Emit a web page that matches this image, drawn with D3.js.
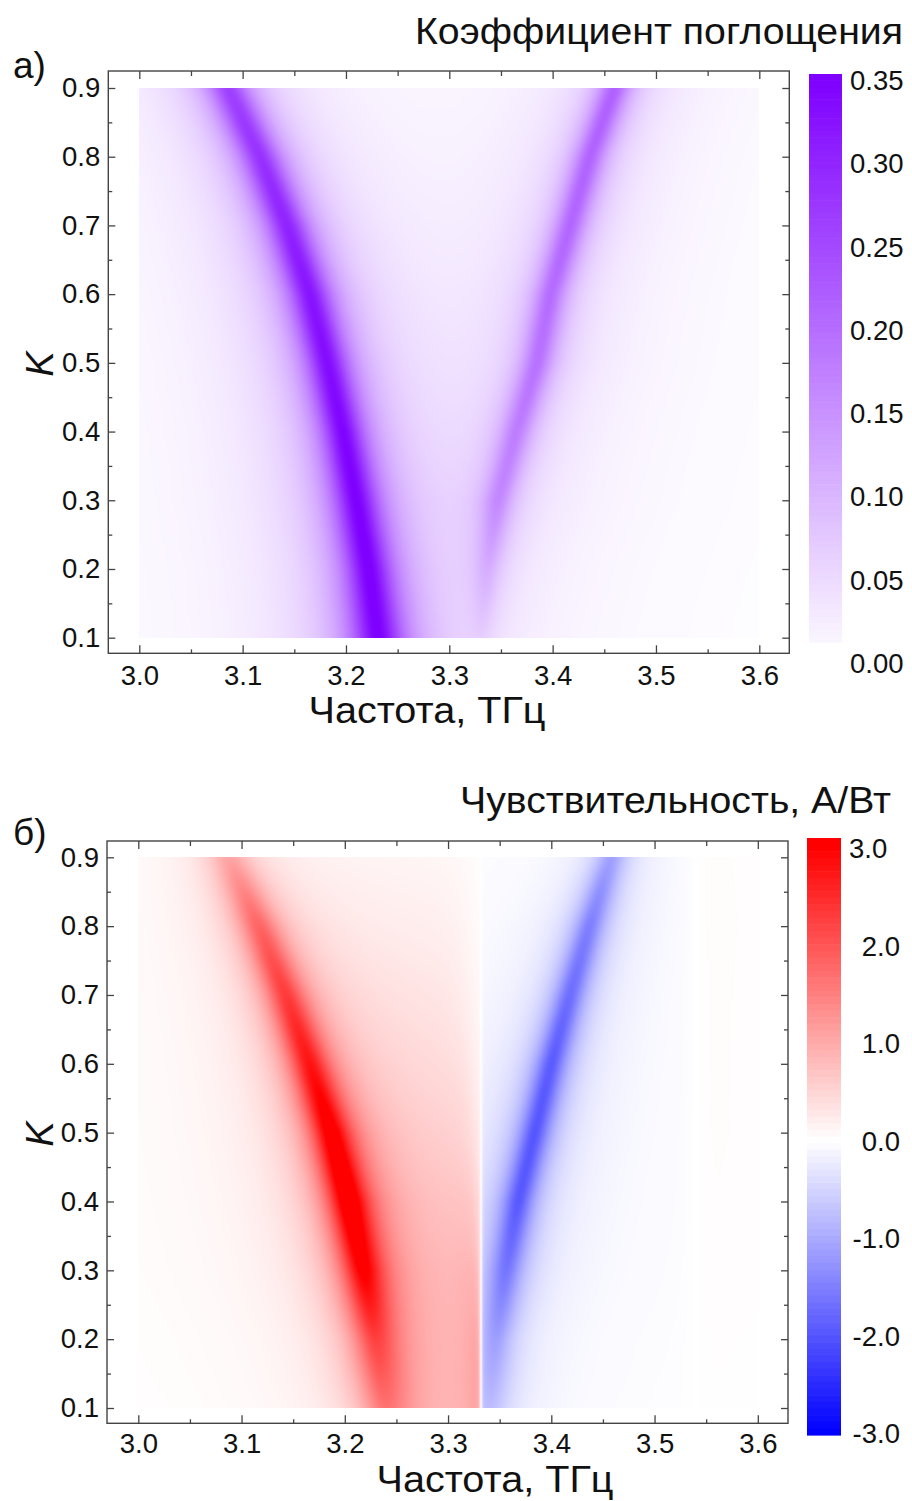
<!DOCTYPE html>
<html>
<head>
<meta charset="utf-8">
<script src="https://cdn.jsdelivr.net/npm/d3@7"></script>
<style>
  html, body { margin: 0; padding: 0; background: #fff; }
  svg { display: block; font-family: "Liberation Sans", Arial, sans-serif; }
</style>
</head>
<body>
<svg id="fig" width="912" height="1501"></svg>
<script>
// ---- K rows at which the ridge parameters are tabulated ----
const kRows = [0.1, 0.2, 0.3, 0.4, 0.5, 0.6, 0.7, 0.8, 0.9];

// ---- (a) absorption coefficient: main (low-frequency) and side resonances ----
const absMainCenter = [3.231, 3.222, 3.210, 3.197, 3.182, 3.165, 3.143, 3.117, 3.086];
const absMainPeak   = [0.350, 0.350, 0.345, 0.340, 0.330, 0.320, 0.300, 0.280, 0.260];
const absMainWidth  = [0.026, 0.024, 0.023, 0.022, 0.022, 0.022, 0.022, 0.022, 0.022];
const absSideCenter = [3.331, 3.337, 3.347, 3.365, 3.385, 3.398, 3.417, 3.436, 3.460];
const absSidePeak   = [0.030, 0.085, 0.145, 0.165, 0.185, 0.195, 0.205, 0.210, 0.215];
const absSideWidth  = [0.014, 0.015, 0.016, 0.017, 0.017, 0.017, 0.017, 0.017, 0.017];

// ---- (b) responsivity: positive ridge, negative ridge, positive plateau ----
const sensPosCenter = [3.240, 3.230, 3.218, 3.204, 3.187, 3.166, 3.143, 3.117, 3.088];
const sensPosPeak   = [1.10, 1.70, 2.60, 3.00, 2.85, 2.45, 2.05, 1.65, 0.95];
const sensPosWidth  = [0.028, 0.025, 0.022, 0.021, 0.021, 0.021, 0.021, 0.021, 0.022];
const sensNegCenter = [3.340, 3.346, 3.356, 3.368, 3.384, 3.400, 3.418, 3.437, 3.458];
const sensNegPeak   = [-0.70, -1.05, -1.55, -1.90, -1.95, -1.90, -1.70, -1.50, -1.10];
const sensNegWidth  = [0.020, 0.018, 0.017, 0.016, 0.016, 0.016, 0.016, 0.016, 0.016];
const sensPlateau   = [0.52, 0.52, 0.50, 0.46, 0.40, 0.33, 0.26, 0.17, 0.10];
const sensPlateauFade = [0.002, 0.003, 0.005, 0.008, 0.012, 0.015, 0.018, 0.020, 0.020];
const sensSignFreqs = [3.332, 3.540];   // frequencies where the responsivity changes sign

// ---- axis ticks and colour-bar labels ----
const freqTicks      = [3.0, 3.1, 3.2, 3.3, 3.4, 3.5, 3.6];
const freqMinorTicks = [3.05, 3.15, 3.25, 3.35, 3.45, 3.55];
const kTicks         = [0.1, 0.2, 0.3, 0.4, 0.5, 0.6, 0.7, 0.8, 0.9];
const kMinorTicks    = [0.15, 0.25, 0.35, 0.45, 0.55, 0.65, 0.75, 0.85];
const absBarTicks    = [0.00, 0.05, 0.10, 0.15, 0.20, 0.25, 0.30, 0.35];
const sensBarTicks   = [-3.0, -2.0, -1.0, 0.0, 1.0, 2.0, 3.0];

// ---- line-shape settings ----
const ABS_WINGS  = { share: 0.11, width: 0.09 };
const SENS_WINGS = { share: 0.06, width: 0.045 };
const PLATEAU_EDGE = 0.020;   // low-frequency fall-off of the plateau, THz
const SIGN_SOFT = [0.0018, 0.012];

const svg = d3.select("#fig");
const FONT_TICK = 27.5;

const byK = arr => d3.scaleLinear().domain(kRows).range(arr).clamp(true);
const lor = (d, w) => 1 / (1 + (d / w) * (d / w));
const ridge = (f, c, a, w, wing) =>
  a * ((1 - wing.share) * lor(f - c, w) + wing.share * lor(f - c, wing.width));

const absP = {
  mc: byK(absMainCenter), mp: byK(absMainPeak), mw: byK(absMainWidth),
  sc: byK(absSideCenter), sp: byK(absSidePeak), sw: byK(absSideWidth)
};
function absorption(f, k) {
  return ridge(f, absP.mc(k), absP.mp(k), absP.mw(k), ABS_WINGS) +
         ridge(f, absP.sc(k), absP.sp(k), absP.sw(k), ABS_WINGS);
}

const sensP = {
  pc: byK(sensPosCenter), pp: byK(sensPosPeak), pw: byK(sensPosWidth),
  nc: byK(sensNegCenter), np: byK(sensNegPeak), nw: byK(sensNegWidth),
  pl: byK(sensPlateau), pf: byK(sensPlateauFade)
};
function responsivity(f, k) {
  const f0 = sensSignFreqs[0], f1 = sensSignFreqs[1];
  const pc = sensP.pc(k);
  let plateau = 0;
  if (f < f0) {
    plateau = f < pc ? sensP.pl(k) * lor(pc - f, PLATEAU_EDGE) : sensP.pl(k);
    plateau *= 1 - lor(f0 - f, sensP.pf(k));
  }
  const mag = ridge(f, pc, sensP.pp(k), sensP.pw(k), SENS_WINGS) +
              Math.abs(ridge(f, sensP.nc(k), sensP.np(k), sensP.nw(k), SENS_WINGS)) + plateau;
  const sign = Math.tanh((f0 - f) / SIGN_SOFT[0]) * Math.tanh((f1 - f) / SIGN_SOFT[1]);
  return mag * sign;
}

const absColor = d3.scaleLinear().domain([0, 0.35]).range(["#ffffff", "#7f00ff"]).clamp(true);
const sensColor = d3.scaleLinear().domain([-3, 0, 3]).range(["#0000ff", "#ffffff", "#ff0000"]).clamp(true);

const fmtAbs = d3.format(".2f");
const fmtSens = d => (d < 0 ? "-" : "") + d3.format(".1f")(Math.abs(d));

function drawPanel(cfg) {
  const g = svg.append("g");
  const x = d3.scaleLinear().domain([3.0, 3.6]).range(cfg.xr);
  const y = d3.scaleLinear().domain([0.1, 0.9]).range(cfg.yr);

  // heat map rendered pixel by pixel through the scales
  const px0 = Math.round(x(3.0)), px1 = Math.round(x(3.6));
  const py0 = Math.round(y(0.9)), py1 = Math.round(y(0.1));
  const w = px1 - px0, h = py1 - py0;
  const cv = document.createElement("canvas");
  cv.width = w; cv.height = h;
  const ctx = cv.getContext("2d");
  const img = ctx.createImageData(w, h);
  for (let j = 0; j < h; j++) {
    const k = y.invert(py0 + j + 0.5);
    for (let i = 0; i < w; i++) {
      const f = x.invert(px0 + i + 0.5);
      const c = d3.rgb(cfg.color(cfg.value(f, k)));
      const o = (j * w + i) * 4;
      img.data[o] = c.r; img.data[o + 1] = c.g; img.data[o + 2] = c.b; img.data[o + 3] = 255;
    }
  }
  ctx.putImageData(img, 0, 0);
  g.append("image").attr("x", px0).attr("y", py0).attr("width", w).attr("height", h)
    .attr("preserveAspectRatio", "none").attr("href", cv.toDataURL());

  // frame
  const fr = cfg.frame;
  g.append("rect").attr("x", fr[0]).attr("y", fr[1]).attr("width", fr[2] - fr[0]).attr("height", fr[3] - fr[1])
    .attr("fill", "none").attr("stroke", "#444").attr("stroke-width", 1.4);

  const styleAxis = sel => {
    sel.select(".domain").remove();
    sel.selectAll(".tick line").attr("stroke", "#444").attr("stroke-width", 1.3);
    sel.selectAll("text").attr("fill", "#111").style("font-size", FONT_TICK + "px")
      .style("font-family", '"Liberation Sans", Arial, sans-serif');
  };
  const fmt1 = d3.format(".1f");
  // bottom axis with labels
  g.append("g").attr("transform", `translate(0,${fr[3]})`)
    .call(d3.axisBottom(x).tickValues(freqTicks).tickSize(-8).tickPadding(cfg.tickPadX).tickFormat(fmt1)).call(styleAxis);
  g.append("g").attr("transform", `translate(0,${fr[3]})`)
    .call(d3.axisBottom(x).tickValues(freqMinorTicks).tickSize(-4).tickFormat("")).call(styleAxis);
  // top axis
  g.append("g").attr("transform", `translate(0,${fr[1]})`)
    .call(d3.axisTop(x).tickValues(freqTicks).tickSize(-8).tickFormat("")).call(styleAxis);
  g.append("g").attr("transform", `translate(0,${fr[1]})`)
    .call(d3.axisTop(x).tickValues(freqMinorTicks).tickSize(-5).tickFormat("")).call(styleAxis);
  // left axis with labels
  g.append("g").attr("transform", `translate(${fr[0]},0)`)
    .call(d3.axisLeft(y).tickValues(kTicks).tickSize(-7).tickPadding(8).tickFormat(fmt1)).call(styleAxis);
  g.append("g").attr("transform", `translate(${fr[0]},0)`)
    .call(d3.axisLeft(y).tickValues(kMinorTicks).tickSize(-4).tickFormat("")).call(styleAxis);
  // right axis
  g.append("g").attr("transform", `translate(${fr[2]},0)`)
    .call(d3.axisRight(y).tickValues(kTicks).tickSize(-7).tickFormat("")).call(styleAxis);
  g.append("g").attr("transform", `translate(${fr[2]},0)`)
    .call(d3.axisRight(y).tickValues(kMinorTicks).tickSize(-4).tickFormat("")).call(styleAxis);

  // axis titles
  g.append("text").attr("x", cfg.xTitleX).attr("y", cfg.xTitleY)
    .attr("text-anchor", "middle").attr("fill", "#111").style("font-size", "36px")
    .attr("textLength", 237).attr("lengthAdjust", "spacingAndGlyphs").text("Частота, ТГц");
  g.append("text").attr("transform", `translate(53,${(fr[1] + fr[3]) / 2 + 2}) rotate(-90)`)
    .attr("text-anchor", "middle").attr("fill", "#111").style("font-size", "38px")
    .style("font-style", "italic").text("K");

  // panel letter and colour-bar title
  g.append("text").attr("x", 13).attr("y", cfg.letterY).attr("fill", "#111")
    .style("font-size", "37px").text(cfg.letter);
  g.append("text").attr("x", cfg.titleX[0]).attr("y", cfg.titleY)
    .attr("textLength", cfg.titleX[1] - cfg.titleX[0]).attr("lengthAdjust", "spacingAndGlyphs")
    .attr("fill", "#111").style("font-size", "36px").text(cfg.title);

  // colour bar
  const cb = cfg.bar;
  const cy = d3.scaleLinear().domain(cb.domain).range(cb.range);
  const nBands = 90;
  const bandH = (cb.y1 - cb.y0) / nBands;
  g.append("g").selectAll("rect").data(d3.range(nBands)).join("rect")
    .attr("x", cb.x0).attr("width", cb.x1 - cb.x0)
    .attr("y", i => cb.y0 + i * bandH).attr("height", bandH + 0.6)
    .attr("fill", i => cfg.color(cy.invert(cb.y0 + (i + 0.5) * bandH)));
  const top = d3.max(cb.domain);
  g.append("g").selectAll("text").data(cb.ticks).join("text")
    .attr("x", d => (cb.anchor === "end" && d === top) ? cb.topX : cb.labelX)
    .attr("y", d => cy(d) + 10)
    .attr("text-anchor", d => (cb.anchor === "end" && d === top) ? "start" : cb.anchor)
    .attr("fill", "#111").style("font-size", FONT_TICK + "px")
    .text(d => cb.fmt(d));
}

drawPanel({
  xr: [139.3, 759.3], yr: [637.7, 88], frame: [108.3, 71, 789.3, 653.3],
  value: absorption, color: absColor, tickPadX: 12,
  xTitleX: 427, xTitleY: 723, letter: "а)", letterY: 78,
  title: "Коэффициент поглощения", titleX: [415, 903], titleY: 44,
  bar: { x0: 809, x1: 842, y0: 74, y1: 642, domain: [0, 0.35], range: [663, 80],
         ticks: absBarTicks, labelX: 850, anchor: "start", fmt: fmtAbs }
});

drawPanel({
  xr: [138.3, 757.8], yr: [1408, 857.3], frame: [107, 841, 788, 1423.3],
  value: responsivity, color: sensColor, tickPadX: 10,
  xTitleX: 495, xTitleY: 1492, letter: "б)", letterY: 845,
  title: "Чувствительность, А/Вт", titleX: [460, 891], titleY: 813,
  bar: { x0: 807, x1: 841, y0: 838, y1: 1435, domain: [-3, 3], range: [1433, 848],
         ticks: sensBarTicks, labelX: 900, topX: 849, anchor: "end", fmt: fmtSens }
});
</script>
</body>
</html>
